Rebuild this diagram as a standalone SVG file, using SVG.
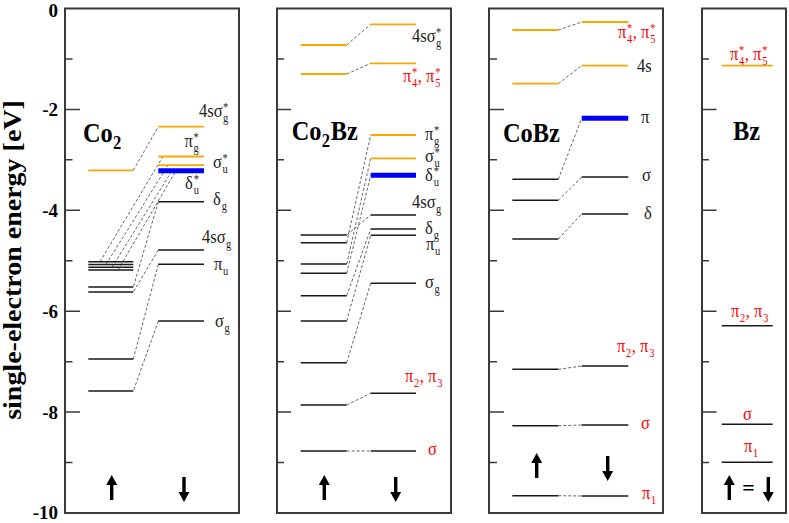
<svg xmlns="http://www.w3.org/2000/svg" width="789" height="523" viewBox="0 0 789 523">
<style>
.fr{fill:none;stroke:#3a3a3a;stroke-width:2}
.tk{stroke:#3a3a3a;stroke-width:1.5;fill:none}
.k{stroke:#1a1a1a;stroke-width:1.5;fill:none}
.o{stroke:#FFA500;stroke-width:1.8;fill:none}
.b{stroke:#0000FF;stroke-width:5;fill:none}
.c{stroke:#555;stroke-width:0.9;stroke-dasharray:3 2;fill:none}
text{font-family:"Liberation Serif","Times New Roman",serif}
.l{font-size:19px;fill:#222}
.r{fill:#FF0000}
.s{font-size:12px}
.t{font-size:28px;font-weight:bold;fill:#000}
.ts{font-size:19px}
.n{font-size:19px;font-weight:bold;text-anchor:end;fill:#000}
.ar{fill:#000}
</style>
<defs>
<path id="up" d="M0 0L5.5 10H1.7V25H-1.7V10H-5.5Z"/>
<path id="dn" d="M0 25L5.5 15H1.7V0H-1.7V15H-5.5Z"/>
</defs>

<g id="axis">
<text class="n" x="58" y="17" font-size="18">0</text>
<text class="n" x="58" y="116">-2</text>
<text class="n" x="58" y="217">-4</text>
<text class="n" x="58" y="318">-6</text>
<text class="n" x="58" y="419">-8</text>
<text class="n" x="58" y="519">-10</text>
<text font-size="28" font-weight="bold" text-anchor="middle" fill="#000" transform="translate(21,260) scale(.87,1) rotate(-90)">single-electron energy [eV]</text>
</g>

<g id="connectors">
<path class="c" d="M133.3 170.3L158.3 126.7M100 261.7L163 156.5M106 264.5L168 165.2M112 267.3L172 170.7M118 270L176 170.7M158.3 201.7L133.3 287M158.3 250L133.3 292M158.3 264.3L133.3 359M158.3 321L133.3 391"/>
<path class="c" d="M346.7 45L370.7 24.3M346.7 74L370.7 63.3M346.7 235L370.7 215M346.7 242.7L370.7 135M346.7 264L370.7 158.3M346.7 273.3L370.7 175.3M346.7 295.7L370.7 229M346.7 321L370.7 235.3M346.7 362.7L370.7 283.3M346.7 405L370.7 393.3M346.7 451L370.7 451"/>
<path class="c" d="M558.3 30L581.7 22M558.3 83.7L581.7 65.7M558.3 179.3L581.7 118.3M558.3 200.3L581.7 177M558.3 239L581.7 214M558.3 369.3L581.7 366M558.3 425.7L581.7 425M558.3 495.7L581.7 496"/>
</g>

<g id="co2">
<rect class="fr" x="65" y="8.5" width="174" height="504.5"/>
<path class="tk" d="M65 109.4h15M65 210.3h15M65 311.2h15M65 412.1h15M65 58.95h7.5M65 159.85h7.5M65 260.75h7.5M65 361.65h7.5M65 462.55h7.5"/>
<path class="o" d="M88.3 170.3H133.3M158.3 126.7H204M158.3 156.5H204M158.3 165.2H204"/>
<path class="b" d="M158.3 170.7H204"/>
<path class="k" d="M88.3 261.7H133.3M88.3 264.5H133.3M88.3 267.3H133.3M88.3 270H133.3M88.3 287H133.3M88.3 292H133.3M88.3 359H133.3M88.3 391H133.3M158.3 201.7H204M158.3 250H204M158.3 264.3H204M158.3 321H204"/>
<text class="t" transform="translate(83,142) scale(.87,1)">Co<tspan class="ts" x="34.5" y="7">2</tspan></text>
<text class="l" transform="translate(199,117) scale(.87,1)">4sσ<tspan class="s" x="27.5" y="-6">*</tspan><tspan class="s" x="27.5" y="5">g</tspan></text>
<text class="l" transform="translate(184.5,147) scale(.87,1)">π<tspan class="s" x="10.5" y="-6">*</tspan><tspan class="s" x="10.5" y="5">g</tspan></text>
<text class="l" transform="translate(213,168) scale(.87,1)">σ<tspan class="s" x="11" y="-6">*</tspan><tspan class="s" x="11" y="5">u</tspan></text>
<text class="l" transform="translate(185,189) scale(.87,1)">δ<tspan class="s" x="10" y="-6">*</tspan><tspan class="s" x="10" y="5">u</tspan></text>
<text class="l" transform="translate(213,205) scale(.87,1)">δ<tspan class="s" x="10" y="5">g</tspan></text>
<text class="l" transform="translate(202,243) scale(.87,1)">4sσ<tspan class="s" x="27.5" y="5">g</tspan></text>
<text class="l" transform="translate(214,270) scale(.87,1)">π<tspan class="s" x="10.5" y="5">u</tspan></text>
<text class="l" transform="translate(215,327) scale(.87,1)">σ<tspan class="s" x="11" y="5">g</tspan></text>
<use href="#up" class="ar" x="111.7" y="475"/>
<use href="#dn" class="ar" x="184" y="477"/>
</g>

<g id="co2bz">
<rect class="fr" x="277" y="8.5" width="174" height="504.5"/>
<path class="tk" d="M277 109.4h14M277 210.3h14M277 311.2h14M277 412.1h14M277 58.95h7M277 159.85h7M277 260.75h7M277 361.65h7M277 462.55h7"/>
<path class="o" d="M300.7 45H346.7M300.7 74H346.7M370.7 24.3H416M370.7 63.3H416M370.7 135H416M370.7 158.3H416"/>
<path class="b" d="M370.7 175.3H416"/>
<path class="k" d="M300.7 235H346.7M300.7 242.7H346.7M300.7 264H346.7M300.7 273.3H346.7M300.7 295.7H346.7M300.7 321H346.7M300.7 362.7H346.7M300.7 405H346.7M300.7 451H346.7M370.7 215H416M370.7 229H416M370.7 235.3H416M370.7 283.3H416M370.7 393.3H416M370.7 451H416"/>
<text class="t" transform="translate(291.7,140) scale(.87,1)">Co<tspan class="ts" x="34.5" y="7">2</tspan><tspan x="45" y="0">Bz</tspan></text>
<text class="l" transform="translate(412,42) scale(.87,1)">4sσ<tspan class="s" x="27.5" y="-6">*</tspan><tspan class="s" x="27.5" y="5">g</tspan></text>
<text class="l r" transform="translate(403,82) scale(.87,1)">π<tspan class="s" x="10.5" y="-6">*</tspan><tspan class="s" x="10.5" y="5">4</tspan><tspan x="17" y="0">, π</tspan><tspan class="s" x="37" y="-6">*</tspan><tspan class="s" x="37" y="5">5</tspan></text>
<text class="l" transform="translate(425,140) scale(.87,1)">π<tspan class="s" x="10.5" y="-6">*</tspan><tspan class="s" x="10.5" y="5">g</tspan></text>
<text class="l" transform="translate(425,162) scale(.87,1)">σ<tspan class="s" x="11" y="-6">*</tspan><tspan class="s" x="11" y="5">u</tspan></text>
<text class="l" transform="translate(425,181) scale(.87,1)">δ<tspan class="s" x="10" y="-6">*</tspan><tspan class="s" x="10" y="5">u</tspan></text>
<text class="l" transform="translate(412,208) scale(.87,1)">4sσ<tspan class="s" x="27.5" y="5">g</tspan></text>
<text class="l" transform="translate(425,234) scale(.87,1)">δ<tspan class="s" x="10" y="5">g</tspan></text>
<text class="l" transform="translate(426,250) scale(.87,1)">π<tspan class="s" x="10.5" y="5">u</tspan></text>
<text class="l" transform="translate(425,288) scale(.87,1)">σ<tspan class="s" x="11" y="5">g</tspan></text>
<text class="l r" transform="translate(405,382) scale(.87,1)">π<tspan class="s" x="10.5" y="5">2</tspan><tspan x="17" y="0">, π</tspan><tspan class="s" x="37" y="5">3</tspan></text>
<text class="l r" transform="translate(428,455) scale(.87,1)">σ</text>
<use href="#up" class="ar" x="324.3" y="475"/>
<use href="#dn" class="ar" x="395.7" y="477"/>
</g>

<g id="cobz">
<rect class="fr" x="489" y="8.5" width="174" height="504.5"/>
<path class="tk" d="M489 109.4h15M489 210.3h15M489 311.2h15M489 412.1h15M489 58.95h8M489 159.85h8M489 260.75h8M489 361.65h8M489 462.55h8"/>
<path class="o" d="M512.3 30H558.3M512.3 83.7H558.3M581.7 22H628.3M581.7 65.7H628.3"/>
<path class="b" d="M581.7 118.3H628.3"/>
<path class="k" d="M512.3 179.3H558.3M512.3 200.3H558.3M512.3 239H558.3M512.3 369.3H558.3M512.3 425.7H558.3M512.3 495.7H558.3M581.7 177H628.3M581.7 214H628.3M581.7 366H628.3M581.7 425H628.3M581.7 496H628.3"/>
<text class="t" transform="translate(503,142) scale(.87,1)">CoBz</text>
<text class="l r" transform="translate(618,38) scale(.87,1)">π<tspan class="s" x="10.5" y="-6">*</tspan><tspan class="s" x="10.5" y="5">4</tspan><tspan x="17" y="0">, π</tspan><tspan class="s" x="37" y="-6">*</tspan><tspan class="s" x="37" y="5">5</tspan></text>
<text class="l" transform="translate(637,72) scale(.87,1)">4s</text>
<text class="l" transform="translate(641,123) scale(.87,1)">π</text>
<text class="l" transform="translate(642,181) scale(.87,1)">σ</text>
<text class="l" transform="translate(644,219) scale(.87,1)">δ</text>
<text class="l r" transform="translate(617,352) scale(.87,1)">π<tspan class="s" x="10.5" y="5">2</tspan><tspan x="17" y="0">, π</tspan><tspan class="s" x="37" y="5">3</tspan></text>
<text class="l r" transform="translate(641,429) scale(.87,1)">σ</text>
<text class="l r" transform="translate(642,499) scale(.87,1)">π<tspan class="s" x="10.5" y="5">1</tspan></text>
<use href="#up" class="ar" x="536.7" y="453"/>
<use href="#dn" class="ar" x="607.7" y="456"/>
</g>

<g id="bz">
<rect class="fr" x="702" y="8.5" width="84" height="504.5"/>
<path class="tk" d="M702 109.4h14.5M702 210.3h14.5M702 311.2h14.5M702 412.1h14.5M702 58.95h7M702 159.85h7M702 260.75h7M702 361.65h7M702 462.55h7"/>
<path class="o" d="M721.7 65.7H772.7"/>
<path class="k" d="M721.7 325.7H772.7M721.7 424.3H772.7M721.7 462.3H772.7"/>
<text class="t" transform="translate(733,140) scale(.87,1)">Bz</text>
<text class="l r" transform="translate(730,60) scale(.87,1)">π<tspan class="s" x="10.5" y="-6">*</tspan><tspan class="s" x="10.5" y="5">4</tspan><tspan x="17" y="0">, π</tspan><tspan class="s" x="37" y="-6">*</tspan><tspan class="s" x="37" y="5">5</tspan></text>
<text class="l r" transform="translate(731,317) scale(.87,1)">π<tspan class="s" x="10.5" y="5">2</tspan><tspan x="17" y="0">, π</tspan><tspan class="s" x="37" y="5">3</tspan></text>
<text class="l r" transform="translate(743,420) scale(.87,1)">σ</text>
<text class="l r" transform="translate(744,452) scale(.87,1)">π<tspan class="s" x="10.5" y="5">1</tspan></text>
<use href="#up" class="ar" x="729.3" y="475"/>
<text font-size="22" font-weight="bold" text-anchor="middle" fill="#000" x="748.5" y="495">=</text>
<use href="#dn" class="ar" x="768.3" y="477"/>
</g>
</svg>
